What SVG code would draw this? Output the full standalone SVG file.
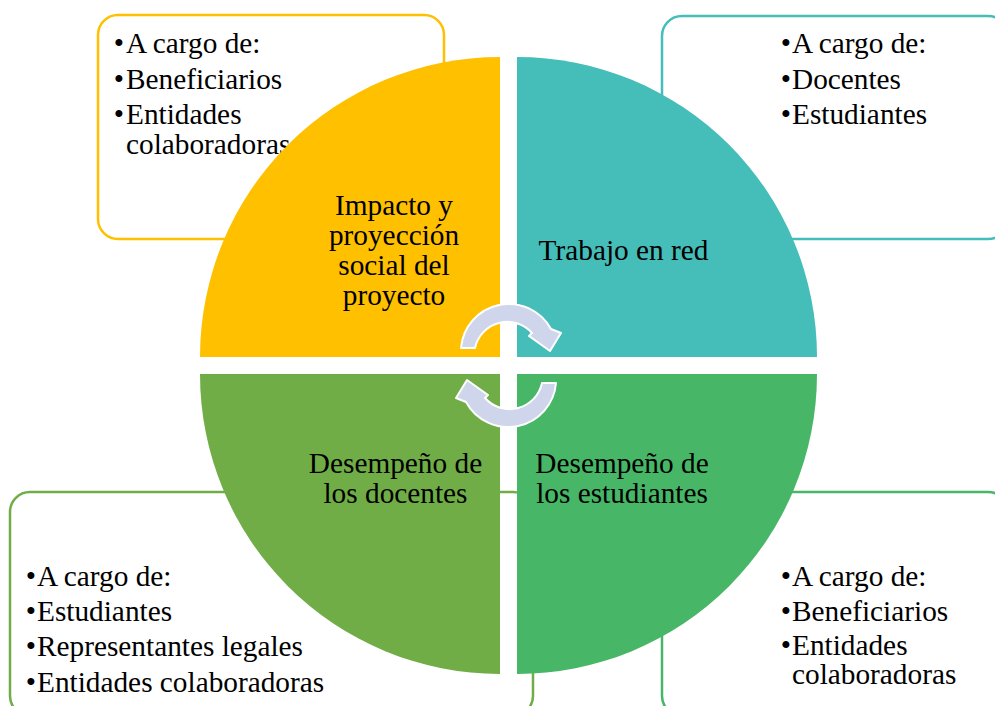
<svg xmlns="http://www.w3.org/2000/svg" width="995" height="706" viewBox="0 0 995 706">
<style>
text{font-family:"Liberation Serif","Times New Roman",serif;font-size:29.3px;fill:#000}
.box{fill:#fff;stroke-width:2.5}
.mid{text-anchor:middle}
.arrow{fill:#CFD5EA;stroke:#fff;stroke-width:2;stroke-linejoin:round}
</style>
<rect width="995" height="706" fill="#fff"/>
<g id="box-tl">
<rect class="box" x="98" y="15" width="346" height="224" rx="20" stroke="#FFC000"/>
<text><tspan class="mid" x="119" y="53">•</tspan><tspan x="126" y="53">A cargo de:</tspan></text>
<text><tspan class="mid" x="119" y="89">•</tspan><tspan x="126" y="89">Beneficiarios</tspan></text>
<text><tspan class="mid" x="119" y="124">•</tspan><tspan x="126" y="124">Entidades</tspan></text>
<text x="126" y="154">colaboradoras</text>
</g>
<g id="box-tr">
<rect class="box" x="662" y="16" width="346" height="223" rx="20" stroke="#45BDB9"/>
<text><tspan class="mid" x="786" y="53">•</tspan><tspan x="792" y="53">A cargo de:</tspan></text>
<text><tspan class="mid" x="786" y="89">•</tspan><tspan x="792" y="89">Docentes</tspan></text>
<text><tspan class="mid" x="786" y="124">•</tspan><tspan x="792" y="124">Estudiantes</tspan></text>
</g>
<g id="box-bl">
<rect class="box" x="10" y="492" width="523" height="224" rx="20" stroke="#70AD47"/>
<text><tspan class="mid" x="31" y="586">•</tspan><tspan x="37" y="586">A cargo de:</tspan></text>
<text><tspan class="mid" x="31" y="621">•</tspan><tspan x="37" y="621">Estudiantes</tspan></text>
<text><tspan class="mid" x="31" y="656">•</tspan><tspan x="37" y="656">Representantes legales</tspan></text>
<text><tspan class="mid" x="31" y="692">•</tspan><tspan x="37" y="692">Entidades colaboradoras</tspan></text>
</g>
<g id="box-br">
<rect class="box" x="662" y="492" width="346" height="224" rx="20" stroke="#47B767"/>
<text><tspan class="mid" x="786" y="586">•</tspan><tspan x="792" y="586">A cargo de:</tspan></text>
<text><tspan class="mid" x="786" y="621">•</tspan><tspan x="792" y="621">Beneficiarios</tspan></text>
<text><tspan class="mid" x="786" y="655">•</tspan><tspan x="792" y="655">Entidades</tspan></text>
<text x="792" y="684">colaboradoras</text>
</g>
<g id="q-tl">
<path d="M500,357 L500,57 A300,300 0 0 0 200,357 Z" fill="#FFC000"/>
<text class="mid" x="394" y="215">Impacto y</text>
<text class="mid" x="394" y="245">proyección</text>
<text class="mid" x="394" y="275">social del</text>
<text class="mid" x="394" y="305">proyecto</text>
</g>
<g id="q-tr">
<path d="M517,357 L517,57 A300,300 0 0 1 817,357 Z" fill="#45BDB9"/>
<text class="mid" x="623.5" y="260">Trabajo en red</text>
</g>
<g id="q-bl">
<path d="M500,374 L200,374 A300,300 0 0 0 500,674 Z" fill="#70AD47"/>
<text class="mid" x="395.5" y="473">Desempeño de</text>
<text class="mid" x="395.5" y="503">los docentes</text>
</g>
<g id="q-br">
<path d="M517,374 L817,374 A300,300 0 0 1 517,674 Z" fill="#47B767"/>
<text class="mid" x="622" y="473">Desempeño de</text>
<text class="mid" x="622" y="503">los estudiantes</text>
</g>
<g id="connectors">
<path id="arrow-top" class="arrow" d="M461,348 A48,48 0 0 1 551,329 L561,333 L550,351 L529,336 L532,333 A33,33 0 0 0 475,348 Z"/>
<path id="arrow-bottom" class="arrow" d="M461,348 A48,48 0 0 1 551,329 L561,333 L550,351 L529,336 L532,333 A33,33 0 0 0 475,348 Z" transform="rotate(180 508.5 365.5)"/>
</g>
</svg>
